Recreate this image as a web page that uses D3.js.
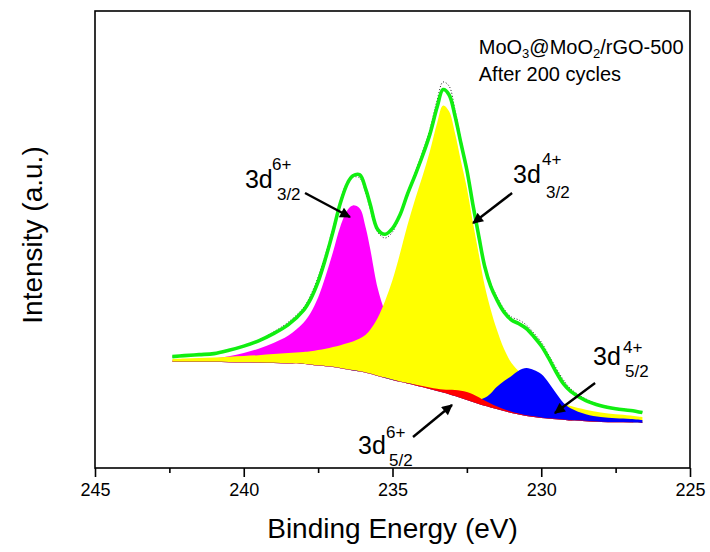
<!DOCTYPE html>
<head>
  <meta charset="utf-8">
  <script src="https://d3js.org/d3.v7.min.js"></script>
  <style>
    body { margin: 0; background: #fff; }
    text { font-family: Arial, 'Liberation Sans', sans-serif; fill: #000; }
    .axisTitle { font-size: 28px; }
    .sampleNote { font-size: 20px; }
    .peakMain { font-size: 25px; }
    .peakSmall { font-size: 17px; }
  </style>
</head>
<body>
<div id="xpsChart"></div>
<script>

///////////////////////////////////////////////////////////////////////////
//////////////////////////////// Data /////////////////////////////////////
///////////////////////////////////////////////////////////////////////////

// binding energy (eV) of every sample point
const energy = [242.4, 242, 241.5, 241, 240.5, 240, 239.5, 239, 238.5, 238,
  237.75, 237.5, 237.25, 237, 236.75, 236.5, 236.33, 236.1, 235.9, 235.75,
  235.5, 235.25, 235, 234.75, 234.5, 234.25, 234, 233.75, 233.5, 233.3,
  233.1, 232.9, 232.7, 232.5, 232.3, 232.1, 231.9, 231.7, 231.5, 231.25,
  231, 230.75, 230.5, 230.25, 230, 229.75, 229.5, 229.25, 229, 228.5,
  228, 227.5, 227, 226.6];

// Shirley background (a.u.)
const background = [106, 106, 106, 106, 105.8, 105.5, 105.3, 105, 104.5, 104,
  103.3, 102.5, 101.8, 101, 99.8, 98.5, 97.6, 96.5, 95.3, 94.2,
  92, 90, 88, 86.2, 84.5, 82.8, 81, 79, 77, 75.4,
  73.8, 72, 70, 68, 66, 64, 62.2, 60.6, 59, 57,
  55, 53.5, 52, 51, 50, 49.3, 48.7, 48.1, 47.5, 46.8,
  46, 45.7, 45.5, 45];

// fitted components, height above background
const mo6_3d32 = [2, 2.5, 3, 3.5, 6, 9.5, 14, 20, 28, 41,
  52, 68, 90, 115, 142, 160, 165, 163, 145, 125,
  88, 66, 51, 38, 30, 23, 19, 15, 13, 12,
  11, 10, 9, 8, 7, 6.5, 6, 5.5, 5, 4.5,
  4, 3.6, 3.3, 3, 2.8, 2.5, 2.3, 2.1, 2, 1.7,
  1.5, 1.3, 1.2, 1.1];

const mo4_3d32 = [3, 3.5, 4, 4.5, 5.5, 6.5, 7.5, 9, 10.5, 12,
  13.5, 15.5, 17.5, 20, 23, 26.5, 29, 33, 38, 44,
  58, 77, 100, 128, 158, 185, 210, 237, 268, 287,
  283, 263, 237, 212, 180, 150, 120, 98, 80, 62,
  50, 43, 36, 30, 25, 21.5, 18.5, 16.5, 14.5, 11.5,
  9.5, 8, 7, 6];

const mo4_3d52 = [0.2, 0.2, 0.2, 0.2, 0.2, 0.2, 0.2, 0.2, 0.2, 0.2,
  0.2, 0.2, 0.2, 0.2, 0.3, 0.3, 0.3, 0.3, 0.3, 0.3,
  0.3, 0.4, 0.4, 0.4, 0.5, 0.5, 0.5, 0.6, 0.7, 0.8,
  1, 1.2, 1.5, 2, 3, 4.5, 8, 14, 22, 30,
  37, 44, 48, 47, 44, 36, 26, 17, 12, 7,
  5, 4, 3.5, 3];

const mo6_3d52 = [0.2, 0.2, 0.2, 0.2, 0.2, 0.2, 0.2, 0.2, 0.2, 0.2,
  0.2, 0.2, 0.2, 0.2, 0.2, 0.2, 0.2, 0.2, 0.2, 0.2,
  0.2, 0.2, 0.2, 0.4, 0.6, 0.8, 1, 1.5, 2.3, 3.2,
  4.5, 6, 7.3, 8, 7.8, 6.8, 5.3, 3.8, 2.7, 1.8,
  1.3, 1, 0.8, 0.7, 0.6, 0.5, 0.5, 0.4, 0.4, 0.4,
  0.3, 0.3, 0.3, 0.3];

// cumulative fit (green) and measured spectrum (dotted)
const fitSum = [111.4, 112.4, 113.4, 114.4, 117.7, 121.9, 127.2, 134.4, 143.4, 157.4,
  169.2, 186.4, 209.7, 236.4, 265.3, 285.5, 292.2, 293.1, 278.9, 263.8,
  238.6, 233.7, 239.6, 253, 273.6, 292.1, 311.5, 333.1, 361, 378.4,
  373.3, 352.2, 324.8, 298, 263.8, 231.8, 201.5, 181.9, 168.7, 155.8,
  148, 144.3, 139.5, 131.5, 122.2, 109.8, 96, 84.1, 76.4, 67.4,
  62.3, 59.3, 57.5, 55.4];

const measured = [111, 112, 113, 114.5, 118, 122.5, 128, 136, 146, 160,
  173, 191, 214, 240, 268, 287, 291, 290, 275, 259,
  236, 230, 236, 253, 275, 295, 315, 338, 368, 386,
  382, 358, 328, 300, 266, 234, 204, 185, 172, 159,
  151, 148, 143, 135, 126, 113, 100, 88, 79, 69,
  63, 60, 58, 56];

const majorTicks = [245, 240, 235, 230, 225];
const minorTicks = [242.5, 237.5, 232.5, 227.5];

///////////////////////////////////////////////////////////////////////////
//////////////////// Set up and initiate svg containers ///////////////////
///////////////////////////////////////////////////////////////////////////

const margin = { top: 11, right: 20, bottom: 84, left: 95 };
const width = 710 - margin.left - margin.right;
const height = 552 - margin.top - margin.bottom;

const svg = d3.select('#xpsChart')
  .append("svg")
  .attr("width", width + margin.left + margin.right)
  .attr("height", height + margin.top + margin.bottom)
  .append("g")
  .attr("transform", "translate(" + margin.left + "," + margin.top + ")");

const x = d3.scaleLinear().domain([245, 225]).range([0, width]);
const y = d3.scaleLinear().domain([0, height]).range([height, 0]);

///////////////////////////////////////////////////////////////////////////
//////////////////////////// Draw peaks ///////////////////////////////////
///////////////////////////////////////////////////////////////////////////

const smooth = d3.curveCatmullRom.alpha(0.5);

const peakArea = comp => d3.area()
  .x((d, i) => x(energy[i]))
  .y0((d, i) => y(background[i]))
  .y1((d, i) => y(background[i] + comp[i]))
  .curve(smooth);

const peaks = [
  { values: mo6_3d32, color: "#ff00ff" },
  { values: mo4_3d32, color: "#ffff00" },
  { values: mo4_3d52, color: "#0000ff" },
  { values: mo6_3d52, color: "#ff0000" }
];

peaks.forEach(p => {
  svg.append("path")
    .datum(p.values)
    .attr("d", peakArea(p.values))
    .style("fill", p.color)
    .style("stroke", "none");
});

const line = d3.line()
  .x((d, i) => x(energy[i]))
  .y(d => y(d))
  .curve(smooth);

svg.append("path")
  .datum(measured)
  .attr("d", line)
  .style("fill", "none")
  .style("stroke", "#222")
  .style("stroke-width", 1)
  .style("stroke-dasharray", "1,2");

svg.append("path")
  .datum(fitSum)
  .attr("d", line)
  .style("fill", "none")
  .style("stroke", "#11ee11")
  .style("stroke-width", 3.6);

///////////////////////////////////////////////////////////////////////////
//////////////////////////// Frame and axis ///////////////////////////////
///////////////////////////////////////////////////////////////////////////

svg.append("rect")
  .attr("width", width)
  .attr("height", height)
  .style("fill", "none")
  .style("stroke", "#000")
  .style("stroke-width", 1.6);

const xAxis = svg.append("g")
  .attr("transform", "translate(0," + height + ")")
  .call(d3.axisBottom(x).tickValues(majorTicks).tickSize(9).tickSizeOuter(0)
    .tickPadding(6).tickFormat(d3.format("d")));

svg.append("g")
  .attr("transform", "translate(0," + height + ")")
  .call(d3.axisBottom(x).tickValues(minorTicks).tickSize(5).tickSizeOuter(0)
    .tickFormat(""))
  .select(".domain").remove();

xAxis.select(".domain").remove();
svg.selectAll(".tick line").style("stroke", "#000").style("stroke-width", 1.6);
xAxis.selectAll("text")
  .style("font-family", "Arial, 'Liberation Sans', sans-serif")
  .style("font-size", "18px")
  .style("fill", "#000");

svg.append("text")
  .attr("class", "axisTitle")
  .attr("x", width / 2)
  .attr("y", height + 70)
  .attr("text-anchor", "middle")
  .text("Binding Energy (eV)");

svg.append("text")
  .attr("class", "axisTitle")
  .attr("transform", "translate(" + (-53) + "," + (224) + ") rotate(-90)")
  .attr("text-anchor", "middle")
  .text("Intensity (a.u.)");

///////////////////////////////////////////////////////////////////////////
//////////////////////////// Annotations //////////////////////////////////
///////////////////////////////////////////////////////////////////////////

const note = svg.append("text")
  .attr("class", "sampleNote")
  .attr("x", x(232.1))
  .attr("y", y(414));
note.append("tspan").text("MoO");
note.append("tspan").attr("font-size", "13px").attr("dy", 4).text("3");
note.append("tspan").attr("dy", -4).text("@MoO");
note.append("tspan").attr("font-size", "13px").attr("dy", 4).text("2");
note.append("tspan").attr("dy", -4).text("/rGO-500");

svg.append("text")
  .attr("class", "sampleNote")
  .attr("x", x(232.1))
  .attr("y", y(387))
  .text("After 200 cycles");

const peakLabels = [
  { e: 239.96, i: 280, sup: "6+", sub: "3/2", supDx: 27, supDy: -18, subDx: 32, subDy: 12 },
  { e: 230.95, i: 285, sup: "4+", sub: "3/2", supDx: 29, supDy: -18, subDx: 33, subDy: 15 },
  { e: 228.26, i: 103, sup: "4+", sub: "5/2", supDx: 30, supDy: -12, subDx: 32, subDy: 12 },
  { e: 236.16, i: 14, sup: "6+", sub: "5/2", supDx: 28, supDy: -16, subDx: 31, subDy: 12 }
];

peakLabels.forEach(l => {
  const g = svg.append("g")
    .attr("transform", "translate(" + x(l.e) + "," + y(l.i) + ")");
  g.append("text").attr("class", "peakMain").text("3d");
  g.append("text").attr("class", "peakSmall").attr("x", l.supDx).attr("y", l.supDy).text(l.sup);
  g.append("text").attr("class", "peakSmall").attr("x", l.subDx).attr("y", l.subDy).text(l.sub);
});

const arrows = [
  { e0: 237.94, i0: 275, e1: 236.43, i1: 251 },
  { e0: 230.98, i0: 275, e1: 232.29, i1: 245 },
  { e0: 228.19, i0: 85, e1: 229.54, i1: 55 },
  { e0: 234.31, i0: 31, e1: 233.0, i1: 63 }
];

svg.append("defs").append("marker")
  .attr("id", "head")
  .attr("viewBox", "0 0 10 10")
  .attr("refX", 9)
  .attr("refY", 5)
  .attr("markerWidth", 5)
  .attr("markerHeight", 4.5)
  .attr("markerUnits", "strokeWidth")
  .attr("orient", "auto")
  .append("path")
  .attr("d", "M0,0L10,5L0,10z")
  .style("fill", "#000");

svg.selectAll(".arrow")
  .data(arrows)
  .enter().append("line")
  .attr("class", "arrow")
  .attr("x1", d => x(d.e0))
  .attr("y1", d => y(d.i0))
  .attr("x2", d => x(d.e1))
  .attr("y2", d => y(d.i1))
  .style("stroke", "#000")
  .style("stroke-width", 2.4)
  .attr("marker-end", "url(#head)");

</script>
</body>
